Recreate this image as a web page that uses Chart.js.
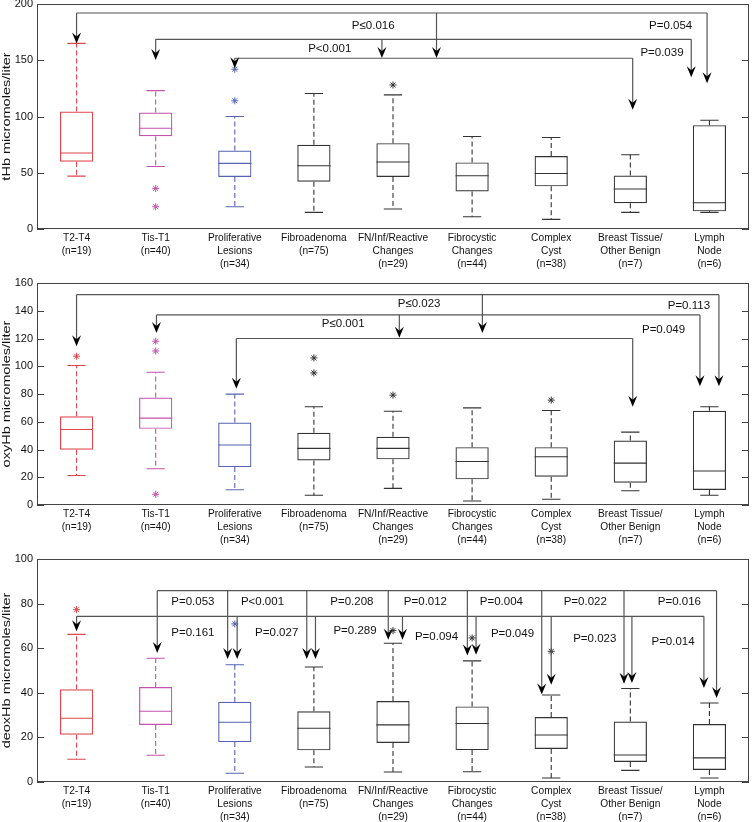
<!DOCTYPE html>
<html>
<head>
<meta charset="utf-8">
<script src="https://cdn.jsdelivr.net/npm/chart.js@4/dist/chart.umd.min.js"></script>
<style>
	html, body { margin: 0; padding: 0; background: #fff; }
	body { width: 754px; height: 822px; position: relative; overflow: hidden; }
	canvas { position: absolute; left: 0; }
</style>
</head>
<body>
<canvas id="tHb" width="754" height="285" style="top:-10px"></canvas>
<canvas id="oxyHb" width="754" height="281" style="top:270px"></canvas>
<canvas id="deoxHb" width="754" height="282" style="top:546px"></canvas>
<script>
'use strict';

const categories = [
	['T2-T4', '(n=19)'],
	['Tis-T1', '(n=40)'],
	['Proliferative', 'Lesions', '(n=34)'],
	['Fibroadenoma', '(n=75)'],
	['FN/Inf/Reactive', 'Changes', '(n=29)'],
	['Fibrocystic', 'Changes', '(n=44)'],
	['Complex', 'Cyst', '(n=38)'],
	['Breast Tissue/', 'Other Benign', '(n=7)'],
	['Lymph', 'Node', '(n=6)']
];

const groupColors = ['#e0474c', '#c453ad', '#5563b0', '#333', '#333', '#333', '#333', '#333', '#333'];

// [lower whisker, q1, median, q3, upper whisker]
const tHbBoxes = [
	[47, 59.8, 67.5, 104.4, 165],
	[55.6, 82.5, 89.6, 103.5, 123],
	[19.8, 46.2, 58.3, 69.8, 100],
	[14.8, 42, 56.2, 74.9, 120.4],
	[17.8, 46.2, 59.5, 76.3, 119.2],
	[10.9, 33.4, 47.3, 59.2, 82.2],
	[8.6, 37.9, 49.4, 64.8, 81.4],
	[14.8, 23, 35.5, 47.6, 66],
	[14.8, 15.7, 23.4, 92.3, 96.7]
];
const tHbOutliers = [[], [36, 19.8], [142, 114], [], [128], [], [], [], []];

const oxyHbBoxes = [
	[21.3, 39.8, 54.4, 64, 100.5],
	[26.1, 54.9, 62.6, 77.5, 95.7],
	[11, 27.3, 43.2, 59.5, 79.9],
	[7, 32.1, 40.8, 52, 70.8],
	[12, 32.9, 40.8, 49.2, 67.6],
	[2.9, 18.5, 31.4, 41.7, 70],
	[4.1, 20.4, 34.8, 41.7, 68.1],
	[10.3, 16.1, 30.2, 46.5, 52.5],
	[7, 10.8, 24.5, 67.9, 70.8]
];
const oxyHbOutliers = [[107.2], [118, 111, 7.7], [], [106, 95.2], [79.2], [], [75.6], [], []];

const deoxHbBoxes = [
	[10.2, 21.2, 28.6, 41.6, 66.2],
	[12, 25.6, 31.7, 42.6, 55.5],
	[3.9, 17.9, 26.8, 36, 52.6],
	[6.7, 14.2, 24.1, 31.7, 51.6],
	[4.5, 17.5, 25.6, 36.3, 62.2],
	[4.6, 14.3, 26.2, 33.9, 54.3],
	[1.8, 14.8, 21.1, 29.1, 39],
	[5.2, 9, 12.1, 27.1, 41.9],
	[1.8, 5.4, 10.8, 26, 35.4]
];
const deoxHbOutliers = [[77.3], [], [70.9], [], [67.9], [64.6], [58.6], [], []];

// comparison brackets: line level, span (category units) and arrow tips [category, value]
const tHbLinks = [
	{ y: 192, from: 0, to: 7.97, arrows: [[0, 165], [7.97, 129.6], [4.55, 152]] },
	{ y: 168.6, from: 1, to: 7.77, arrows: [[1, 150.3], [7.77, 135], [3.86, 152]] },
	{ y: 151.8, from: 2, to: 7.03, arrows: [[2, 143], [7.03, 106]] }
];
const tHbPValues = [['P\u22640.016', 3.75, 180.4], ['P<0.001', 3.2, 160], ['P=0.054', 7.51, 180.4], ['P=0.039', 7.4, 156.4]];

const oxyHbLinks = [
	{ y: 151.6, from: 0, to: 8.12, arrows: [[0, 114.4], [8.12, 85.6], [5.13, 124]] },
	{ y: 137, from: 1.01, to: 7.88, arrows: [[1.01, 124], [7.88, 85.6], [4.08, 120.6]] },
	{ y: 120, from: 2.02, to: 7.03, arrows: [[2.02, 83.7], [7.03, 70.8]] }
];
const oxyHbPValues = [['P\u22640.023', 4.33, 144.7], ['P\u22640.001', 3.37, 130.3], ['P=0.113', 7.74, 143.3], ['P=0.049', 7.42, 126]];

const deoxHbLinks = [
	{ y: 85.8, from: 1.02, to: 8.09, arrows: [[1.02, 57.8], [1.91, 55.2], [2.91, 55.2], [3.94, 63.8], [4.94, 56.7], [5.88, 39.2], [6.92, 44.1], [8.09, 37.7]] },
	{ y: 74.3, from: 0, to: 7.93, arrows: [[0, 67.6], [2.03, 55.2], [3.02, 55.2], [4.12, 63.8], [5.05, 57.1], [6, 43.6], [7.02, 44.4], [7.93, 42.2]] }
];
const deoxHbPValues = [
	['P=0.053', 1.47, 81], ['P<0.001', 2.35, 81], ['P=0.208', 3.48, 81], ['P=0.012', 4.41, 81],
	['P=0.004', 5.37, 81], ['P=0.022', 6.43, 81], ['P=0.016', 7.62, 81],
	['P=0.161', 1.47, 67.1], ['P=0.027', 2.53, 67.1], ['P=0.289', 3.52, 68], ['P=0.094', 4.55, 65.2],
	['P=0.049', 5.51, 66.5], ['P=0.023', 6.55, 64.4], ['P=0.014', 7.54, 62.9]
];

const fontFamily = '"Liberation Sans", Arial, Helvetica, sans-serif';

function drawArrowHead(ctx, x, tip) {
	ctx.beginPath();
	ctx.moveTo(x, tip);
	ctx.lineTo(x - 4.5, tip - 11);
	ctx.lineTo(x, tip - 7);
	ctx.lineTo(x + 4.5, tip - 11);
	ctx.closePath();
	ctx.fill();
}

const boxExtras = {
	id: 'boxExtras',
	afterDatasetsDraw(chart, args, opts) {
		const ctx = chart.ctx;
		const area = chart.chartArea;
		const xs = chart.scales.x;
		const ys = chart.scales.y;
		const bars = chart.getDatasetMeta(0).data;

		ctx.save();

		// whiskers, caps and medians
		opts.boxes.forEach(function (b, i) {
			const cx = xs.getPixelForValue(i);
			const half = bars[i].width / 2;
			const cap = half * 0.55;
			ctx.strokeStyle = groupColors[i];
			ctx.lineWidth = 1.1;

			ctx.setLineDash([5, 3]);
			ctx.beginPath();
			ctx.moveTo(cx, ys.getPixelForValue(b[3]));
			ctx.lineTo(cx, ys.getPixelForValue(b[4]));
			ctx.moveTo(cx, ys.getPixelForValue(b[1]));
			ctx.lineTo(cx, ys.getPixelForValue(b[0]));
			ctx.stroke();

			ctx.setLineDash([]);
			ctx.beginPath();
			ctx.moveTo(cx - cap, ys.getPixelForValue(b[4]));
			ctx.lineTo(cx + cap, ys.getPixelForValue(b[4]));
			ctx.moveTo(cx - cap, ys.getPixelForValue(b[0]));
			ctx.lineTo(cx + cap, ys.getPixelForValue(b[0]));
			ctx.moveTo(cx - half, ys.getPixelForValue(b[2]));
			ctx.lineTo(cx + half, ys.getPixelForValue(b[2]));
			ctx.stroke();
		});

		// frame and inward ticks
		ctx.strokeStyle = '#444';
		ctx.lineWidth = 1;
		ctx.strokeRect(area.left + 0.5, area.top + 0.5, area.right - area.left - 1, area.bottom - area.top - 1);
		ys.ticks.forEach(function (t) {
			const py = Math.round(ys.getPixelForValue(t.value)) + 0.5;
			ctx.beginPath();
			ctx.moveTo(area.left, py);
			ctx.lineTo(area.left + 7, py);
			ctx.moveTo(area.right, py);
			ctx.lineTo(area.right - 7, py);
			ctx.stroke();
		});

		// comparison brackets
		opts.links.forEach(function (link) {
			const ly = ys.getPixelForValue(link.y);
			ctx.strokeStyle = '#555';
			ctx.lineWidth = 1.2;
			ctx.beginPath();
			ctx.moveTo(xs.getPixelForValue(link.from), ly);
			ctx.lineTo(xs.getPixelForValue(link.to), ly);
			link.arrows.forEach(function (a) {
				const ax = xs.getPixelForValue(a[0]);
				ctx.moveTo(ax, ly);
				ctx.lineTo(ax, ys.getPixelForValue(a[1]) - 6);
			});
			ctx.stroke();

			ctx.fillStyle = '#000';
			link.arrows.forEach(function (a) {
				drawArrowHead(ctx, xs.getPixelForValue(a[0]), ys.getPixelForValue(a[1]));
			});
		});

		// p-values
		ctx.fillStyle = '#111';
		ctx.font = '11.5px ' + fontFamily;
		ctx.textAlign = 'center';
		ctx.textBaseline = 'middle';
		opts.pValues.forEach(function (p) {
			ctx.fillText(p[0], xs.getPixelForValue(p[1]), ys.getPixelForValue(p[2]));
		});

		// y title, stretched along its length like the source figure
		ctx.translate(7, (area.top + area.bottom) / 2);
		ctx.rotate(-Math.PI / 2);
		ctx.scale(1.32, 1);
		ctx.font = '11px ' + fontFamily;
		ctx.fillText(opts.title, 0, 0);

		ctx.restore();
	}
};

function renderPanel(id, boxes, outliers, links, pValues, yMax, yStep, yTitle, padTop) {
	const datasets = [{
		data: boxes.map(function (b) { return [b[1], b[3]]; }),
		backgroundColor: 'rgba(0,0,0,0)',
		borderColor: groupColors,
		borderWidth: 1.2,
		borderSkipped: false,
		categoryPercentage: 1,
		barPercentage: 0.42
	}];

	// one point series per outlier rank, so each value sits on its own category
	const ranks = Math.max.apply(null, outliers.map(function (o) { return o.length; }));
	for (let k = 0; k < ranks; k++) {
		datasets.push({
			type: 'line',
			data: outliers.map(function (o) { return o.length > k ? o[k] : null; }),
			showLine: false,
			pointStyle: 'star',
			pointRadius: 3.5,
			pointBorderWidth: 1,
			pointBorderColor: groupColors,
			pointBackgroundColor: groupColors
		});
	}

	return new Chart(document.getElementById(id), {
		type: 'bar',
		data: {
			labels: categories,
			datasets: datasets
		},
		options: {
			responsive: false,
			animation: false,
			layout: { padding: { top: padTop, right: 4, left: 0, bottom: 0 } },
			plugins: {
				legend: { display: false },
				tooltip: { enabled: false },
				boxExtras: { boxes: boxes, links: links, pValues: pValues, title: yTitle }
			},
			scales: {
				x: {
					grid: { display: false, drawTicks: false },
					border: { display: false },
					afterFit: function (scale) { scale.height = 46; },
					ticks: {
						autoSkip: false,
						maxRotation: 0,
						padding: 3,
						color: '#111',
						font: { family: fontFamily, size: 10.2, lineHeight: 1.25 }
					}
				},
				y: {
					min: 0,
					max: yMax,
					grid: { display: false, drawTicks: false },
					border: { display: false },
					afterFit: function (scale) { scale.width = 37; },
					ticks: {
						stepSize: yStep,
						padding: 4,
						color: '#111',
						font: { family: fontFamily, size: 11 }
					}
				}
			}
		},
		plugins: [boxExtras]
	});
}

renderPanel('tHb', tHbBoxes, tHbOutliers, tHbLinks, tHbPValues, 200, 50, 'tHb micromoles/liter', 14);
renderPanel('oxyHb', oxyHbBoxes, oxyHbOutliers, oxyHbLinks, oxyHbPValues, 160, 20, 'oxyHb micromoles/liter', 13);
renderPanel('deoxHb', deoxHbBoxes, deoxHbOutliers, deoxHbLinks, deoxHbPValues, 100, 20, 'deoxHb micromoles/liter', 13);
</script>
</body>
</html>
